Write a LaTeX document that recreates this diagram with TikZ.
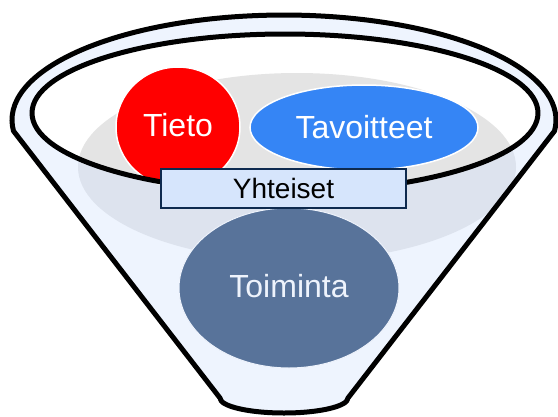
\documentclass[tikz,border=0pt]{standalone}
\usepackage{fontspec}
\setmainfont{Liberation Sans}
\usetikzlibrary{shapes.geometric}
\definecolor{funnelblue}{HTML}{EEF4FE}
\definecolor{bluegrey}{HTML}{DDE3EE}
\definecolor{lightgrey}{HTML}{E4E4E4}
\definecolor{tietored}{HTML}{FF0000}
\definecolor{tavblue}{HTML}{3585F5}
\definecolor{slate}{HTML}{58739A}
\definecolor{boxfill}{HTML}{D6E5FC}
\definecolor{boxborder}{HTML}{0E2A4F}
\definecolor{paletext}{HTML}{EEF3FC}
\tikzset{
  rim/.style={draw=black, line width=5pt, line join=round},
  bigtext/.style={font=\fontsize{32}{38}\selectfont, inner sep=0pt},
  blob/.style={bigtext, draw=white, line width=1.5pt}
}
\begin{document}
\begin{tikzpicture}[x=1pt,y=1pt]
\useasboundingbox (0,0) rectangle (558,-416);
% funnel body
\fill[funnelblue] (13.5,-131) arc[start angle=186, end angle=-6, x radius=272, y radius=105]
  -- (348,-398) arc[start angle=0, end angle=-180, x radius=64, y radius=15] -- cycle;
% shadow ellipse
\fill[bluegrey] (297,-167) ellipse[x radius=219, y radius=94];
\begin{scope}
  \clip (285,-113) ellipse[x radius=253, y radius=79];
  \fill[white] (285,-113) ellipse[x radius=253, y radius=79];
  \fill[lightgrey] (297,-167) ellipse[x radius=219, y radius=94];
\end{scope}
% upper nodes
\node[blob, ellipse, fill=tietored, text=white, minimum width=124pt, minimum height=120pt,
      text height=23pt, text depth=5pt] (tieto) at (178,-127) {Tieto};
\node[blob, ellipse, fill=tavblue, text=white, minimum width=228pt, minimum height=85pt]
      (tav) at (364,-127.5) {Tavoitteet};
% funnel outlines
\draw[rim] (13.5,-131) arc[start angle=186, end angle=-6, x radius=272, y radius=105]
  -- (348,-398) arc[start angle=0, end angle=-180, x radius=64, y radius=15] -- cycle;
\draw[rim] (285,-113) ellipse[x radius=253, y radius=79];
% lower node
\node[bigtext, ellipse, fill=slate, draw=paletext, line width=1pt, text=paletext,
      minimum width=220pt, minimum height=160pt, text height=24pt, text depth=6pt]
      (toim) at (289,-288) {Toiminta};
% label box
\node[rectangle, fill=boxfill, draw=boxborder, line width=2pt, inner sep=0pt,
      minimum width=245pt, minimum height=39pt, font=\fontsize{28}{32}\selectfont]
      (yht) at (283.5,-188.5) {Yhteiset};
\end{tikzpicture}
\end{document}
